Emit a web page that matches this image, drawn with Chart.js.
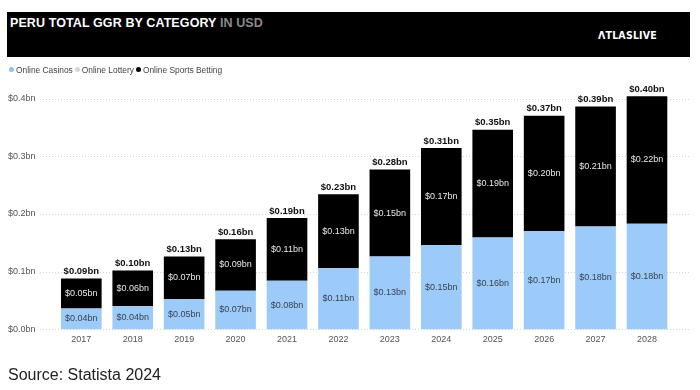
<!DOCTYPE html>
<html>
<head>
<meta charset="utf-8">
<script src="https://cdn.jsdelivr.net/npm/chart.js@4.4.1/dist/chart.umd.min.js"></script>
<style>
  html, body { margin: 0; padding: 0; background: #fff; }
  body { width: 700px; height: 390px; position: relative; overflow: hidden; font-family: "Liberation Sans", Arial, sans-serif; }
  #wrap { position: absolute; left: 0; top: 0; width: 700px; height: 390px; }
  #banner { position: absolute; left: 7px; top: 12px; width: 683px; height: 45px; background: #000; }
  #title { position: absolute; left: 3px; top: 4px; font-size: 12.5px; font-weight: bold; color: #fff; letter-spacing: 0.1px; white-space: nowrap; }
  #title span { color: #8a8a8a; }
  #logo { position: absolute; left: 591px; top: 17px; font-family: "DejaVu Sans Condensed", "DejaVu Sans", sans-serif; font-weight: bold; font-size: 10.5px; color: #fff; letter-spacing: 0.2px; }
  #legend { position: absolute; left: 9px; top: 65px; font-size: 8.4px; color: #444; white-space: nowrap; }
  #legend .it { display: inline-block; margin-right: 2px; }
  #legend .dot { display: inline-block; width: 5px; height: 5px; border-radius: 50%; margin-right: 2px; vertical-align: 1px; }
  #source { position: absolute; left: 8px; top: 366px; font-size: 16px; color: #222; white-space: nowrap; }
</style>
</head>
<body>
<div id="wrap"><canvas id="c" width="700" height="390"></canvas></div>
<div id="banner">
  <div id="title">PERU TOTAL GGR BY CATEGORY <span>IN USD</span></div>
  <div id="logo">ΛTLASLIVE</div>
</div>
<div id="legend"></div>
<div id="source">Source: Statista 2024</div>
<script>
const years = ['2017','2018','2019','2020','2021','2022','2023','2024','2025','2026','2027','2028'];
const onlineCasinos = [0.036, 0.040, 0.052, 0.067, 0.084, 0.106, 0.126, 0.146, 0.159, 0.170, 0.178, 0.183];
const onlineLottery = [0, 0, 0, 0, 0, 0, 0, 0, 0, 0, 0, 0];
const onlineSportsBetting = [0.052, 0.062, 0.074, 0.089, 0.109, 0.128, 0.151, 0.168, 0.187, 0.200, 0.208, 0.221];
const yTicks = [0, 0.1, 0.2, 0.3, 0.4];

const seriesNames = ['Online Casinos', 'Online Lottery', 'Online Sports Betting'];
const seriesColors = ['#9ccaf9', '#d6d6d6', '#000000'];
const labelColors = ['#3b4350', '#333333', '#e8e8e8'];

// HTML legend
const lg = document.getElementById('legend');
seriesNames.forEach((n, i) => {
  const s = document.createElement('span');
  s.className = 'it';
  s.innerHTML = '<span class="dot" style="background:' + (i === 0 ? '#8fc0f0' : seriesColors[i]) + '"></span>' + n;
  lg.appendChild(s);
});

const fmt = v => '$' + v.toFixed(2) + 'bn';

const gridPlugin = {
  id: 'dottedGrid',
  beforeDatasetsDraw(chart) {
    const ctx = chart.ctx, y = chart.scales.y;
    ctx.save();
    ctx.strokeStyle = '#d4d4d4';
    ctx.lineWidth = 1;
    ctx.setLineDash([1, 2]);
    yTicks.forEach(t => {
      const py = Math.round(y.getPixelForValue(t)) + 0.5;
      ctx.beginPath();
      ctx.moveTo(40, py);
      ctx.lineTo(690, py);
      ctx.stroke();
    });
    ctx.restore();
  }
};

const labelPlugin = {
  id: 'segLabels',
  afterDatasetsDraw(chart) {
    const ctx = chart.ctx;
    ctx.save();
    ctx.textAlign = 'center';
    ctx.textBaseline = 'middle';
    chart.data.datasets.forEach((ds, di) => {
      const meta = chart.getDatasetMeta(di);
      meta.data.forEach((bar, i) => {
        const v = ds.data[i];
        if (!v) return;
        ctx.font = '9px "Liberation Sans", Arial, sans-serif';
        ctx.fillStyle = labelColors[di];
        ctx.fillText(fmt(v), bar.x, (bar.y + bar.base) / 2);
      });
    });
    const topMeta = chart.getDatasetMeta(chart.data.datasets.length - 1);
    topMeta.data.forEach((bar, i) => {
      const total = onlineCasinos[i] + onlineLottery[i] + onlineSportsBetting[i];
      ctx.font = 'bold 9.5px "Liberation Sans", Arial, sans-serif';
      ctx.fillStyle = '#111';
      ctx.fillText(fmt(total), bar.x, bar.y - 7);
    });
    ctx.restore();
  }
};

new Chart(document.getElementById('c'), {
  type: 'bar',
  data: {
    labels: years,
    datasets: [
      { label: seriesNames[0], data: onlineCasinos, backgroundColor: seriesColors[0] },
      { label: seriesNames[1], data: onlineLottery, backgroundColor: seriesColors[1] },
      { label: seriesNames[2], data: onlineSportsBetting, backgroundColor: seriesColors[2] }
    ]
  },
  options: {
    responsive: false,
    animation: false,
    devicePixelRatio: 1,
    layout: { padding: { left: 8, right: 27.3, top: 98.5, bottom: 40.7 } },
    datasets: { bar: { categoryPercentage: 1, barPercentage: 0.79, clip: false } },
    plugins: { legend: { display: false }, tooltip: { enabled: false } },
    scales: {
      x: {
        stacked: true,
        grid: { display: false, drawTicks: false },
        border: { display: false },
        ticks: { padding: 5, color: '#555', font: { size: 9, family: '"Liberation Sans", Arial, sans-serif' } },
        afterFit(s) { s.height = 20; }
      },
      y: {
        stacked: true,
        min: 0, max: 0.4,
        grid: { display: false, drawTicks: false },
        border: { display: false },
        afterFit(s) { s.width = 47.6; },
        afterBuildTicks(s) { s.ticks = yTicks.map(v => ({ value: v })); },
        ticks: {
          crossAlign: 'far',
          color: '#555',
          font: { size: 9, family: '"Liberation Sans", Arial, sans-serif' },
          callback: v => '$' + v.toFixed(1) + 'bn'
        }
      }
    }
  },
  plugins: [gridPlugin, labelPlugin]
});
</script>
</body>
</html>
